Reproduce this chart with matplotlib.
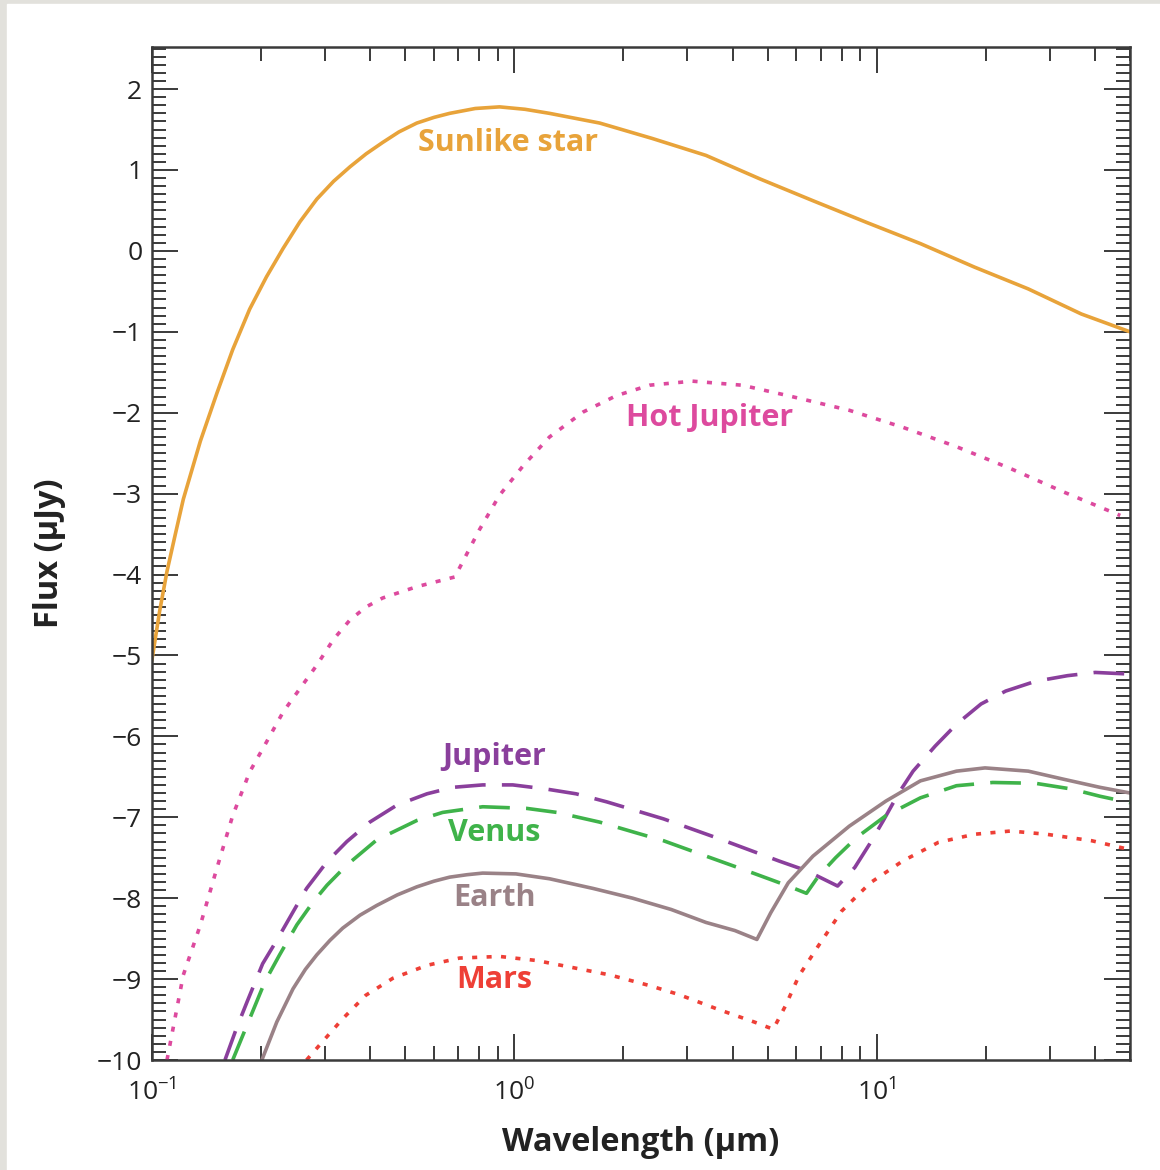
import numpy as np
import matplotlib
matplotlib.use("Agg")
import matplotlib.pyplot as plt
from matplotlib.ticker import LogLocator, MultipleLocator, NullFormatter
from matplotlib.patches import Rectangle

plt.rcParams['font.family'] = ['Open Sans', 'DejaVu Sans']
plt.rcParams['mathtext.fontset'] = 'custom'
plt.rcParams['mathtext.rm'] = 'Open Sans'
plt.rcParams['mathtext.it'] = 'Open Sans:italic'

# wavelength (um) / log flux (uJy)
sun_x = [0.1, 0.105, 0.110, 0.116, 0.122, 0.136, 0.151, 0.167, 0.186, 0.207, 0.230, 0.256,
         0.285, 0.317, 0.352, 0.39, 0.433, 0.48, 0.538, 0.60, 0.663, 0.78, 0.91, 1.07,
         1.25, 1.72, 2.40, 3.38, 4.76, 6.67, 9.4, 13.2, 18.6, 26.2, 36.7, 50]
sun_y = [-5.05, -4.45, -3.96, -3.50, -3.07, -2.35, -1.76, -1.22, -0.72, -0.32, 0.03, 0.36,
         0.64, 0.86, 1.04, 1.20, 1.34, 1.47, 1.58, 1.65, 1.70, 1.76, 1.78, 1.75,
         1.70, 1.58, 1.39, 1.18, 0.89, 0.62, 0.35, 0.09, -0.20, -0.47, -0.78, -1.00]

hotjup_x = [0.110, 0.122, 0.136, 0.151, 0.167, 0.186, 0.207, 0.230, 0.256, 0.285, 0.317,
            0.352, 0.39, 0.433, 0.538, 0.685, 0.80, 0.91, 1.06, 1.25, 1.55, 1.91, 2.36,
            3.10, 4.25, 5.7, 8.4, 11.8, 16.6, 23.4, 32.8, 47.0]
hotjup_y = [-10.0, -8.95, -8.33, -7.63, -6.98, -6.44, -6.07, -5.70, -5.41, -5.12, -4.80,
            -4.56, -4.40, -4.29, -4.15, -4.03, -3.45, -3.02, -2.65, -2.30, -1.99, -1.79, -1.66,
            -1.61, -1.66, -1.79, -1.97, -2.18, -2.42, -2.69, -2.98, -3.27]

jup_x = [0.159, 0.171, 0.183, 0.202, 0.221, 0.245, 0.267, 0.304, 0.345, 0.399, 0.474,
         0.574, 0.676, 0.818, 0.99, 1.22, 1.48, 1.80, 2.58, 3.70, 5.37, 6.4, 7.8,
         8.7, 9.56, 10.4, 11.5, 12.6, 14.5, 16.6, 19.4, 22.7, 27.4, 33.6, 40.1, 50]
jup_y = [-10.0, -9.61, -9.28, -8.81, -8.52, -8.17, -7.88, -7.55, -7.30, -7.06, -6.85,
         -6.71, -6.63, -6.60, -6.60, -6.65, -6.71, -6.81, -7.02, -7.27, -7.54, -7.66, -7.85,
         -7.62, -7.33, -7.05, -6.70, -6.43, -6.12, -5.85, -5.60, -5.44, -5.32, -5.25, -5.21, -5.23]

venus_x = [0.167, 0.186, 0.205, 0.225, 0.251, 0.278, 0.304, 0.345, 0.417, 0.538, 0.634,
           0.818, 1.08, 1.31, 1.72, 2.16, 2.58, 3.38, 4.25, 5.1, 5.7, 6.4,
           6.9, 7.7, 8.8, 10.6, 13.2, 16.6, 20.9, 27.4, 34.4, 41.3, 50]
venus_y = [-10.0, -9.49, -9.03, -8.70, -8.33, -8.05, -7.84, -7.59, -7.28, -7.04, -6.94,
           -6.87, -6.89, -6.94, -7.06, -7.19, -7.29, -7.48, -7.64, -7.77, -7.85, -7.94,
           -7.73, -7.50, -7.25, -6.98, -6.76, -6.61, -6.57, -6.58, -6.65, -6.74, -6.82]

earth_x = [0.201, 0.221, 0.245, 0.265, 0.285, 0.31, 0.336, 0.375, 0.417, 0.475, 0.538,
           0.60, 0.663, 0.74, 0.818, 1.01, 1.25, 1.65, 2.12, 2.71, 3.38, 4.06, 4.67,
           5.1, 5.7, 6.67, 8.4, 10.6, 13.2, 16.6, 19.9, 26.2, 32.8, 41.3, 50]
earth_y = [-10.0, -9.53, -9.12, -8.88, -8.70, -8.52, -8.37, -8.21, -8.09, -7.96, -7.86,
           -7.79, -7.74, -7.71, -7.69, -7.70, -7.76, -7.88, -8.00, -8.14, -8.30, -8.40, -8.51,
           -8.18, -7.81, -7.48, -7.11, -6.80, -6.55, -6.43, -6.39, -6.43, -6.53, -6.63, -6.70]

mars_x = [0.267, 0.296, 0.336, 0.389, 0.462, 0.574, 0.706, 0.91, 1.15, 1.42, 1.84,
          2.36, 2.84, 3.63, 4.59, 5.18, 5.6, 6.1, 6.9, 8.0, 9.6, 11.8, 14.8,
          18.6, 23.4, 29.4, 39.2, 50]
mars_y = [-10.0, -9.77, -9.49, -9.20, -8.99, -8.83, -8.74, -8.72, -8.77, -8.85, -8.95,
          -9.08, -9.19, -9.37, -9.53, -9.62, -9.33, -8.96, -8.59, -8.16, -7.81, -7.54, -7.31,
          -7.21, -7.17, -7.21, -7.29, -7.40]

labels = ['Sunlike star', 'Hot Jupiter', 'Jupiter', 'Venus', 'Earth', 'Mars']
label_x = [0.96, 3.46, 0.88, 0.88, 0.88, 0.88]
label_y = [1.33, -2.06, -6.26, -7.20, -8.00, -9.01]

c_sun = '#e8a33a'
c_hot = '#dd4a9e'
c_jup = '#8a3f9c'
c_ven = '#3fb34a'
c_ear = '#9a8287'
c_mar = '#ee3f36'

fig = plt.figure(figsize=(11.6, 11.7), dpi=100)
# grey page edge like the scan
fig.patches.append(Rectangle((0, 0), 1, 1, transform=fig.transFigure, color='#e2e1dc', zorder=-3))
fig.patches.append(Rectangle((7 / 1160, 0), 1, 1 - 4 / 1170, transform=fig.transFigure,
                             color='white', zorder=-2))
ax = fig.add_axes([152 / 1160, 1 - 1060 / 1170, (1130 - 152) / 1160, (1060 - 47) / 1170])

lw = 2.6
ax.plot(sun_x, sun_y, color=c_sun, lw=lw)
ax.plot(hotjup_x, hotjup_y, color=c_hot, lw=lw, dashes=(1.4, 2.6))
ax.plot(jup_x, jup_y, color=c_jup, lw=lw, dashes=(8.5, 4.5))
ax.plot(venus_x, venus_y, color=c_ven, lw=lw, dashes=(8.5, 4.5), dash_capstyle='butt')
ax.plot(earth_x, earth_y, color=c_ear, lw=lw)
ax.plot(mars_x, mars_y, color=c_mar, lw=lw, dashes=(1.4, 2.6))

cols = [c_sun, c_hot, c_jup, c_ven, c_ear, c_mar]
for t, x, y, c in zip(labels, label_x, label_y, cols):
    ax.text(x, y, t, color=c, fontsize=22, fontweight='bold', ha='center', va='center')

ax.set_xscale('log')
ax.set_xlim(0.1, 50)
ax.set_ylim(-10, 2.52)

ax.xaxis.set_major_locator(LogLocator(base=10, numticks=10))
ax.xaxis.set_minor_locator(LogLocator(base=10, subs=np.arange(2, 10), numticks=20))
ax.xaxis.set_minor_formatter(NullFormatter())
ax.yaxis.set_major_locator(MultipleLocator(1))
ax.yaxis.set_minor_locator(MultipleLocator(0.1))

axc = '#3a3a3a'
for s in ax.spines.values():
    s.set_color(axc)
    s.set_linewidth(1.8)
ax.tick_params(which='both', direction='in', top=True, right=True, color=axc)
ax.tick_params(which='major', length=19, width=1.4, labelsize=19, pad=7, labelcolor='#222222')
ax.tick_params(which='minor', length=10, width=1.4)
ax.tick_params(axis='x', which='major', pad=14)

ax.set_xlabel('Wavelength (μm)', fontsize=23.5, fontweight='bold', labelpad=14, color='#222222')
ax.set_ylabel('Flux (μJy)', fontsize=23.5, fontweight='bold', labelpad=22, color='#222222')

fig.savefig('out.png', dpi=100)
